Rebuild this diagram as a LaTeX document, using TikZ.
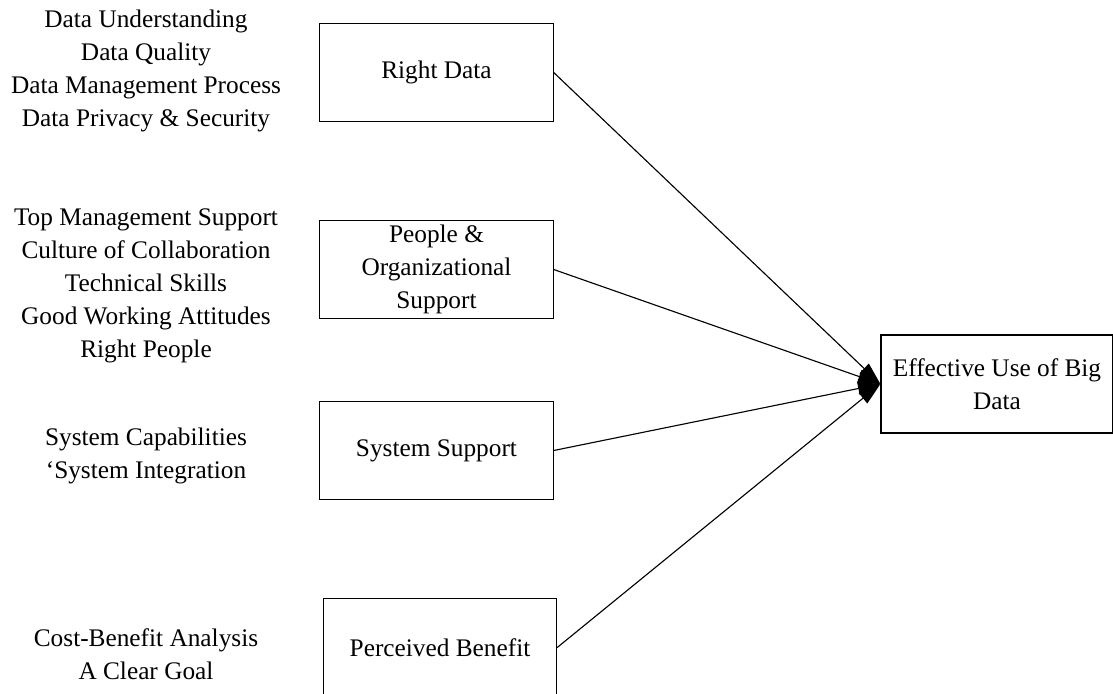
\documentclass[tikz,border=0pt]{standalone}
\usepackage{fontspec}
\setmainfont{Liberation Serif}
\usepackage{tikz}
\usetikzlibrary{arrows.meta, positioning}

\begin{document}
\begin{tikzpicture}[
  x=0.025cm, y=-0.025cm,
  factor/.style={draw, line width=0.8pt, minimum width=5.83cm, minimum height=2.45cm, align=center, inner sep=2pt, font=\fontsize{18}{23.5}\selectfont},
  items/.style={align=center, inner sep=0pt, font=\fontsize{18}{23.5}\selectfont},
  link/.style={line width=0.8pt, -{Triangle[length=16pt, width=9.5pt]}}
]
  \useasboundingbox (0,0) rectangle (1113,693);

  % constructs
  \node[factor] (rightdata) at (436.5, 72.5) {Right Data};
  \node[factor] (people) at (436.5, 269.5) {People \&\\ Organizational\\ Support};
  \node[factor] (system) at (436.5, 450.5) {System Support};
  \node[factor] (benefit) at (440, 647.5) {Perceived Benefit};
  \node[factor, minimum width=5.8cm] (use) at (997, 384) {Effective Use of Big\\ Data};

  % indicators
  \node[items] (dataitems) at (146, 71) {Data Understanding\\ Data Quality\\ Data Management Process\\ Data Privacy \& Security};
  \node[items] (peopleitems) at (146, 286) {Top Management Support\\ Culture of Collaboration\\ Technical Skills\\ Good Working Attitudes\\ Right People};
  \node[items] (systemitems) at (146, 456) {System Capabilities\\ \symbol{96}System Integration};
  \node[items] (benefititems) at (146, 654) {Cost-Benefit Analysis\\ A Clear Goal};

  \draw[link] (rightdata.east) -- (use.west);
  \draw[link] (people.east) -- (use.west);
  \draw[link] (system.east) -- (use.west);
  \draw[link] (benefit.east) -- (use.west);
\end{tikzpicture}
\end{document}
